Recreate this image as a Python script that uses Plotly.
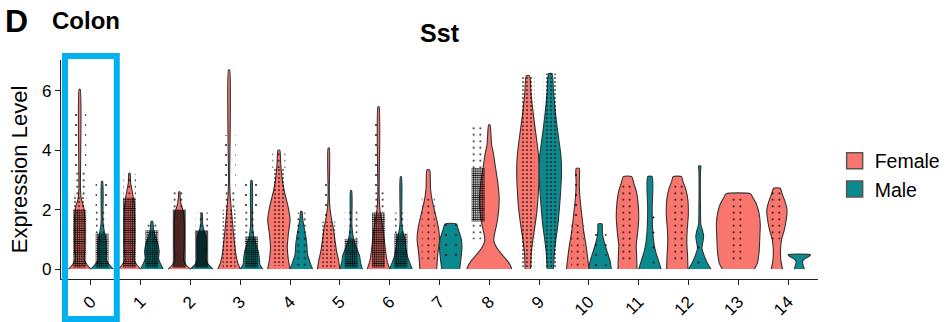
import plotly.graph_objects as go

FONT = "Liberation Sans, Arial, sans-serif"

clusters = [str(i) for i in range(15)]
groups = ["Female", "Male"]
group_colors = ["#F8766D", "#0A898E"]
y_ticks = [0, 2, 4, 6]

# Expression levels at which each violin's relative width (fraction of max width) was read
female_levels = [
    [0, 0.12, 0.3, 0.6, 1.2, 1.8, 2.1, 2.35, 2.7, 6.05],
    [0, 0.12, 0.3, 0.7, 1.5, 2.2, 2.6, 2.9, 3.22],
    [0, 0.12, 0.3, 0.7, 1.5, 1.9, 2.15, 2.4, 2.6],
    [0, 0.2, 0.5, 1.0, 1.5, 2.0, 2.5, 3.0, 6.7],
    [0, 0.3, 0.75, 1.2, 1.65, 2.1, 2.6, 3.0, 3.5, 4.0],
    [0, 0.3, 0.6, 1.0, 1.4, 1.8, 2.2, 2.6, 4.07],
    [0, 0.3, 0.7, 1.2, 1.6, 2.0, 2.5, 5.46],
    [0, 0.5, 1.0, 1.4, 1.9, 2.3, 2.7, 3.34],
    [0, 0.15, 0.3, 0.5, 0.7, 0.9, 1.0, 1.2, 1.5, 2.0, 2.4, 2.9, 3.4, 3.9, 4.2, 4.85],
    [0, 0.5, 1.0, 1.5, 2.0, 2.7, 3.3, 3.8, 4.3, 4.8, 5.3, 5.9, 6.5],
    [0, 0.4, 0.9, 1.3, 1.7, 2.1, 2.5, 2.9, 3.39],
    [0, 0.4, 0.8, 1.2, 1.7, 2.2, 2.6, 2.9, 3.11],
    [0, 0.4, 0.9, 1.3, 1.8, 2.3, 2.7, 2.95, 3.11],
    [0, 0.2, 0.6, 1.1, 1.5, 1.9, 2.2, 2.4, 2.53],
    [0, 0.3, 0.7, 1.0, 1.3, 1.7, 2.0, 2.3, 2.55, 2.72],
]
female_widths = [
    [1.0, 0.7, 0.42, 0.45, 0.47, 0.45, 0.35, 0.15, 0.07, 0.05],
    [1.0, 0.7, 0.42, 0.46, 0.47, 0.42, 0.25, 0.1, 0.05],
    [1.0, 0.65, 0.4, 0.44, 0.45, 0.38, 0.18, 0.08, 0.05],
    [1.0, 0.78, 0.6, 0.45, 0.32, 0.2, 0.09, 0.05, 0.05],
    [1.0, 0.85, 0.75, 0.85, 1.0, 0.82, 0.5, 0.3, 0.17, 0.08],
    [1.0, 0.88, 0.7, 0.55, 0.4, 0.2, 0.08, 0.05, 0.05],
    [1.0, 0.75, 0.6, 0.45, 0.3, 0.13, 0.06, 0.05],
    [0.75, 0.85, 1.0, 0.9, 0.6, 0.35, 0.2, 0.12],
    [1.0, 0.92, 0.78, 0.55, 0.35, 0.22, 0.2, 0.24, 0.33, 0.42, 0.44, 0.38, 0.28, 0.18, 0.1, 0.03],
    [0.25, 0.3, 0.45, 0.65, 0.82, 0.95, 1.0, 0.95, 0.8, 0.62, 0.45, 0.28, 0.15],
    [1.0, 0.88, 0.7, 0.52, 0.4, 0.28, 0.18, 0.14, 0.14],
    [0.85, 0.82, 0.78, 0.9, 1.0, 0.95, 0.8, 0.55, 0.38],
    [0.95, 0.92, 0.85, 0.88, 0.98, 0.95, 0.75, 0.5, 0.38],
    [0.72, 0.85, 0.93, 0.96, 0.98, 0.92, 0.8, 0.65, 0.55],
    [0.5, 0.35, 0.33, 0.42, 0.65, 0.85, 0.9, 0.7, 0.45, 0.3],
]
male_levels = [
    [0, 0.12, 0.3, 0.6, 1.0, 1.3, 1.6, 2.95],
    [0, 0.15, 0.35, 0.6, 0.9, 1.1, 1.3, 1.6],
    [0, 0.15, 0.3, 0.7, 1.1, 1.3, 1.55, 1.88],
    [0, 0.15, 0.35, 0.6, 0.9, 1.1, 1.5, 2.98],
    [0, 0.2, 0.5, 0.8, 1.1, 1.4, 1.7, 1.94],
    [0, 0.2, 0.45, 0.7, 0.9, 1.2, 1.5, 2.64],
    [0, 0.2, 0.4, 0.7, 1.0, 1.3, 1.6, 3.1],
    [0, 0.3, 0.7, 1.0, 1.3, 1.52],
    None,
    [0, 0.5, 1.0, 1.5, 2.0, 2.6, 3.2, 3.8, 4.3, 4.8, 5.4, 6.0, 6.58],
    [0, 0.25, 0.5, 0.8, 1.1, 1.3, 1.52],
    [0, 0.3, 0.6, 0.9, 1.3, 2.0, 3.11],
    [0, 0.15, 0.4, 0.7, 0.95, 1.1, 1.3, 1.5, 2.0, 3.3, 3.47],
    None,
    [0, 0.12, 0.25, 0.35, 0.42, 0.48],
]
male_widths = [
    [1.0, 0.7, 0.38, 0.38, 0.35, 0.18, 0.08, 0.05],
    [1.0, 0.8, 0.6, 0.65, 0.5, 0.3, 0.15, 0.07],
    [1.0, 0.6, 0.4, 0.42, 0.38, 0.2, 0.08, 0.05],
    [1.0, 0.75, 0.7, 0.6, 0.35, 0.2, 0.08, 0.05],
    [1.0, 0.8, 0.55, 0.5, 0.4, 0.25, 0.12, 0.06],
    [1.0, 0.85, 0.75, 0.5, 0.3, 0.14, 0.07, 0.05],
    [1.0, 0.8, 0.6, 0.45, 0.35, 0.15, 0.07, 0.05],
    [0.8, 0.9, 1.0, 0.95, 0.7, 0.5],
    None,
    [0.28, 0.35, 0.5, 0.68, 0.8, 0.92, 1.0, 0.95, 0.78, 0.6, 0.42, 0.28, 0.15],
    [1.0, 0.9, 0.7, 0.45, 0.25, 0.2, 0.18],
    [1.0, 0.75, 0.5, 0.35, 0.25, 0.2, 0.2],
    [1.0, 0.75, 0.45, 0.2, 0.3, 0.35, 0.25, 0.1, 0.07, 0.07, 0.1],
    None,
    [0.45, 0.35, 0.28, 0.5, 0.85, 1.0],
]

# Jittered cells, read as expression bands with a density class
female_dot_bands = [
    [(0.05, 2.0, "d"), (2.0, 2.5, "m"), (2.5, 3.3, "s"), (3.3, 5.3, "vs")],
    [(0.05, 2.4, "d"), (2.4, 3.2, "s")],
    [(0.05, 2.0, "vd"), (2.0, 2.6, "s")],
    [(0.05, 2.0, "m"), (2.0, 2.6, "s"), (2.6, 4.5, "vs")],
    [(0.1, 3.4, "m"), (3.4, 4.0, "s")],
    [(0.05, 1.6, "m"), (1.6, 3.0, "vs")],
    [(0.05, 1.9, "d"), (1.9, 2.6, "s"), (2.6, 5.0, "vs")],
    [(0.3, 2.5, "s")],
    [(1.0, 1.6, "s"), (1.6, 3.4, "d"), (3.4, 4.85, "s")],
    [(0.0, 6.5, "m")],
    [(0.1, 1.5, "s"), (1.5, 3.3, "vs")],
    [(0.3, 2.9, "s")],
    [(0.3, 2.9, "s")],
    [(0.3, 2.5, "s")],
    [(1.0, 2.6, "s")],
]
male_dot_bands = [
    [(0.05, 1.2, "d"), (1.2, 2.0, "s"), (2.0, 2.95, "vs")],
    [(0.05, 1.3, "d"), (1.3, 1.6, "s")],
    [(0.05, 1.3, "vd"), (1.3, 1.9, "s")],
    [(0.05, 1.1, "d"), (1.1, 2.0, "s"), (2.0, 2.98, "vs")],
    [(0.1, 1.9, "s")],
    [(0.05, 1.0, "d"), (1.0, 2.0, "s")],
    [(0.05, 1.2, "d"), (1.2, 1.9, "s")],
    [(0.2, 1.5, "vs")],
    [],
    [(0.0, 6.58, "m")],
    [(0.1, 1.2, "vs")],
    [(0.0, 2.0, "vvs")],
    [(0.0, 1.2, "vvs")],
    [],
    [],
]
# clusters whose female cells are drawn centred (the others sit on the female dodge slot)
female_dots_centered = ["13"]

# ---- styling ----
DODGE = 0.225
JITTER = 0.13
OUTLINE = "#333333"
DOT_STYLE = {"vd": (2.0, 0.7), "d": (2.2, 0.55), "m": (4.0, 0.15),
             "s": (6.5, 0.06), "vs": (10.0, 0.025), "vvs": (15.0, 0.011)}

fig = go.Figure()


def violin(center, half, levels, widths, color):
    xr = [center + half * w for w in widths]
    xl = [center - half * w for w in widths][::-1]
    fig.add_trace(go.Scatter(
        x=xr + xl, y=list(levels) + list(levels)[::-1],
        mode="lines", fill="toself", fillcolor=color,
        line=dict(color=OUTLINE, width=1.1, shape="spline", smoothing=0.6),
        hoverinfo="skip", showlegend=False))


def dots(center, bands):
    for lo, hi, kind in bands:
        size, sol = DOT_STYLE[kind]
        fig.add_trace(go.Scatter(
            x=[center - JITTER, center + JITTER, center + JITTER, center - JITTER],
            y=[lo, lo, hi, hi], mode="lines", fill="toself",
            line=dict(width=0), fillcolor="rgba(0,0,0,0)",
            fillpattern=dict(shape=".", fgcolor="black", bgcolor="rgba(0,0,0,0)",
                             size=size, solidity=sol, fillmode="replace"),
            hoverinfo="skip", showlegend=False))


for i, c in enumerate(clusters):
    if male_levels[i] is not None:
        violin(i - DODGE, DODGE, female_levels[i], female_widths[i], group_colors[0])
        violin(i + DODGE, DODGE, male_levels[i], male_widths[i], group_colors[1])
    else:
        violin(i, 2 * DODGE, female_levels[i], female_widths[i], group_colors[0])

for i, c in enumerate(clusters):
    fc = i if c in female_dots_centered else i - DODGE
    dots(fc, female_dot_bands[i])
    if male_levels[i] is not None:
        dots(i + DODGE, male_dot_bands[i])

for g, col in zip(groups, group_colors):
    fig.add_trace(go.Scatter(
        x=[None], y=[None], mode="markers", name=g,
        marker=dict(symbol="square", size=16, color=col,
                    line=dict(color="#555555", width=1.5))))

fig.update_layout(
    width=951, height=322,
    margin=dict(l=61, r=133, t=60, b=43, autoexpand=False),
    paper_bgcolor="white", plot_bgcolor="white",
    font=dict(family=FONT, color="black"),
    title=dict(text="<b>Sst</b>", x=0.5, xref="paper", xanchor="center",
               y=1 - 33 / 322, yref="container", yanchor="middle",
               font=dict(size=25, family=FONT, color="black")),
    showlegend=True,
    legend=dict(x=1.022, y=0.475, xanchor="left", yanchor="middle",
                font=dict(size=19.5, family=FONT, color="black"),
                tracegroupgap=0, bgcolor="rgba(0,0,0,0)"),
    xaxis=dict(range=[-0.6, 14.6], tickmode="array", automargin=False,
               tickvals=list(range(len(clusters))), ticktext=clusters,
               tickangle=-45, ticks="outside", ticklen=5, tickwidth=1,
               tickcolor="#222222", showline=True, linecolor="#222222",
               linewidth=1.2, showgrid=False, zeroline=False,
               tickfont=dict(size=17, family=FONT, color="black")),
    yaxis=dict(range=[-0.335, 7.035], tickmode="array", tickvals=y_ticks,
               automargin=False,
               ticktext=[str(t) for t in y_ticks],
               ticks="outside", ticklen=5, tickwidth=1, tickcolor="#222222",
               showline=True, linecolor="#222222", linewidth=1.2,
               showgrid=False, zeroline=False,
               tickfont=dict(size=17, family=FONT, color="black"),
               title=dict(text="Expression Level", standoff=8,
                          font=dict(size=22, family=FONT, color="black"))),
)

fig.add_annotation(text="<b>Colon</b>", xref="paper", yref="paper",
                   x=(50 - 61) / 757, y=(279 - 20) / 219,
                   xanchor="left", yanchor="middle", showarrow=False,
                   font=dict(size=24, family=FONT, color="black"))
fig.add_annotation(text="<b>D</b>", xref="paper", yref="paper",
                   x=(3 - 61) / 757, y=(279 - 21) / 219,
                   xanchor="left", yanchor="middle", showarrow=False,
                   font=dict(size=32, family=FONT, color="black"))

fig.add_shape(type="rect", xref="x", yref="paper",
              x0=-0.52, x1=0.52, y0=(279 - 319) / 219, y1=(279 - 56) / 219,
              line=dict(color="#00B0F0", width=6), fillcolor="rgba(0,0,0,0)")

fig.write_html("out.html")
